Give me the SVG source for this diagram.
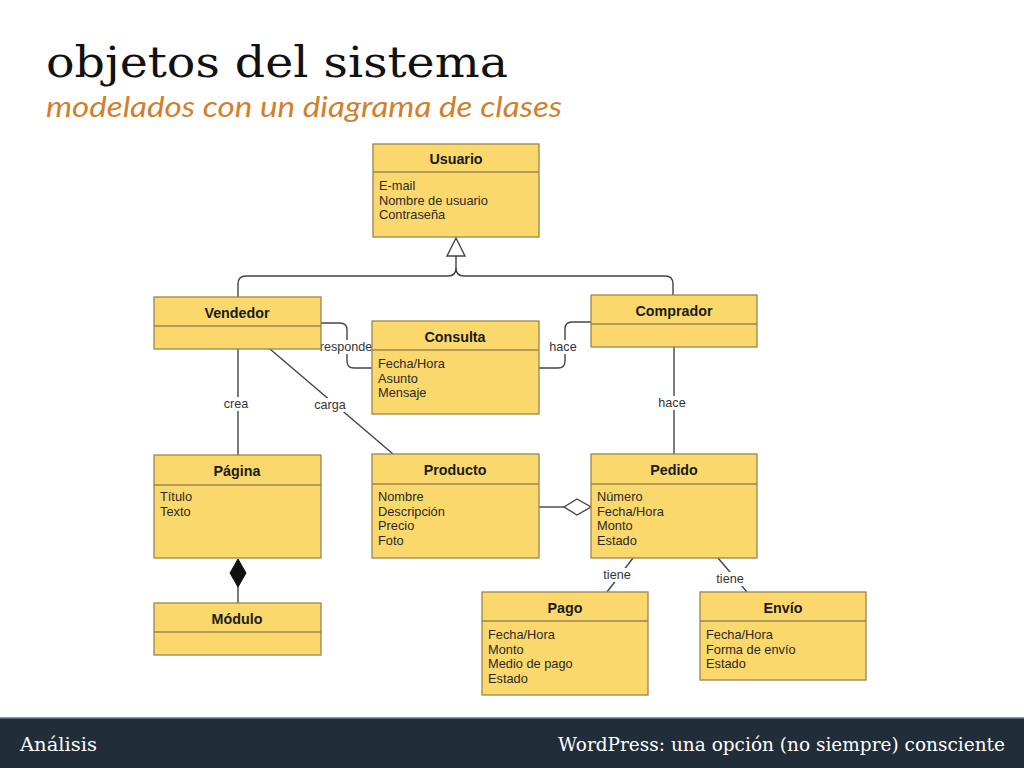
<svg xmlns="http://www.w3.org/2000/svg" width="1024" height="768" viewBox="0 0 1024 768">
<style>
.box{fill:#fad86c;stroke:#9a8550;stroke-width:1.3}
.div{stroke:#9a8550;stroke-width:1.3}
.hd{font-family:"Liberation Sans",Arial,sans-serif;font-size:14.3px;font-weight:bold;fill:#1a1a1a;text-anchor:middle}
.at{font-family:"Liberation Sans",Arial,sans-serif;font-size:12.8px;fill:#2a2a2a}
.ln{fill:none;stroke:#444;stroke-width:1.4}
.lb{font-family:"Liberation Sans",Arial,sans-serif;font-size:12.6px;fill:#333;text-anchor:middle}
.bg{fill:#fff}
</style>
<rect width="1024" height="768" fill="#fff"/>
<text x="46" y="77" font-family="'DejaVu Serif',serif" font-size="42" fill="#111" textLength="462" lengthAdjust="spacingAndGlyphs">objetos del sistema</text>
<text x="46" y="117" font-family="Lato,'Open Sans',sans-serif" font-style="italic" font-size="28" fill="#d27f2c" textLength="516" lengthAdjust="spacingAndGlyphs">modelados con un diagrama de clases</text>

<g id="connectors">
  <path class="ln" d="M238,297 V284 Q238,276 246,276 H448 Q456,276 456,268 V256"/>
  <path class="ln" d="M673,295 V284 Q673,276 665,276 H464 Q456,276 456,268"/>
  <polygon points="456,238 447,256 465,256" fill="#fff" stroke="#444" stroke-width="1.4"/>
  <path class="ln" d="M321,323 H340 Q347,323 347,330 V361 Q347,368 354,368 H372"/>
  <rect class="bg" x="322" y="340" width="49" height="14"/>
  <text class="lb" x="346" y="351">responde</text>
  <path class="ln" d="M539,368 H558 Q565,368 565,361 V329 Q565,322 572,322 H591"/>
  <rect class="bg" x="548" y="340" width="30" height="14"/>
  <text class="lb" x="563" y="351">hace</text>
  <path class="ln" d="M674,347 V454"/>
  <rect class="bg" x="656" y="396" width="32" height="14"/>
  <text class="lb" x="672" y="407">hace</text>
  <path class="ln" d="M238,349 V455"/>
  <rect class="bg" x="222" y="397" width="30" height="14"/>
  <text class="lb" x="236" y="408">crea</text>
  <path class="ln" d="M270,349 L393,454"/>
  <rect class="bg" x="312" y="398" width="36" height="14"/>
  <text class="lb" x="330" y="409">carga</text>
  <path class="ln" d="M539,507 H564"/>
  <polygon points="564,507 577,499 591,507 577,515" fill="#fff" stroke="#444" stroke-width="1.4"/>
  <path class="ln" d="M238,586 V603"/>
  <polygon points="238,559 246,573 238,587 230,573" fill="#111" stroke="#111" stroke-width="1"/>
  <path class="ln" d="M633,558 L607,592"/>
  <rect class="bg" x="602" y="568" width="30" height="14"/>
  <text class="lb" x="617" y="579">tiene</text>
  <path class="ln" d="M718,558 L747,592"/>
  <rect class="bg" x="715" y="572" width="30" height="14"/>
  <text class="lb" x="730" y="583">tiene</text>
</g>

<g id="usuario">
  <rect class="box" x="373" y="144" width="166" height="93"/>
  <line class="div" x1="373" y1="172" x2="539" y2="172"/>
  <text class="hd" x="456" y="164">Usuario</text>
  <text class="at" x="379" y="190">E-mail</text>
  <text class="at" x="379" y="205">Nombre de usuario</text>
  <text class="at" x="379" y="219">Contraseña</text>
</g>
<g id="vendedor">
  <rect class="box" x="154" y="297" width="167" height="52"/>
  <line class="div" x1="154" y1="326" x2="321" y2="326"/>
  <text class="hd" x="237" y="318">Vendedor</text>
</g>
<g id="consulta">
  <rect class="box" x="372" y="321" width="167" height="93"/>
  <line class="div" x1="372" y1="350" x2="539" y2="350"/>
  <text class="hd" x="455" y="342">Consulta</text>
  <text class="at" x="378" y="368">Fecha/Hora</text>
  <text class="at" x="378" y="383">Asunto</text>
  <text class="at" x="378" y="397">Mensaje</text>
</g>
<g id="comprador">
  <rect class="box" x="591" y="295" width="166" height="52"/>
  <line class="div" x1="591" y1="324" x2="757" y2="324"/>
  <text class="hd" x="674" y="316">Comprador</text>
</g>
<g id="pagina">
  <rect class="box" x="154" y="455" width="167" height="103"/>
  <line class="div" x1="154" y1="485" x2="321" y2="485"/>
  <text class="hd" x="237" y="476">Página</text>
  <text class="at" x="160" y="501">Título</text>
  <text class="at" x="160" y="516">Texto</text>
</g>
<g id="producto">
  <rect class="box" x="372" y="454" width="167" height="104"/>
  <line class="div" x1="372" y1="484" x2="539" y2="484"/>
  <text class="hd" x="455" y="475">Producto</text>
  <text class="at" x="378" y="501">Nombre</text>
  <text class="at" x="378" y="516">Descripción</text>
  <text class="at" x="378" y="530">Precio</text>
  <text class="at" x="378" y="545">Foto</text>
</g>
<g id="pedido">
  <rect class="box" x="591" y="454" width="166" height="104"/>
  <line class="div" x1="591" y1="484" x2="757" y2="484"/>
  <text class="hd" x="674" y="475">Pedido</text>
  <text class="at" x="597" y="501">Número</text>
  <text class="at" x="597" y="516">Fecha/Hora</text>
  <text class="at" x="597" y="530">Monto</text>
  <text class="at" x="597" y="545">Estado</text>
</g>
<g id="modulo">
  <rect class="box" x="154" y="603" width="167" height="52"/>
  <line class="div" x1="154" y1="632" x2="321" y2="632"/>
  <text class="hd" x="237" y="624">Módulo</text>
</g>
<g id="pago">
  <rect class="box" x="482" y="592" width="166" height="103"/>
  <line class="div" x1="482" y1="621" x2="648" y2="621"/>
  <text class="hd" x="565" y="613">Pago</text>
  <text class="at" x="488" y="639">Fecha/Hora</text>
  <text class="at" x="488" y="654">Monto</text>
  <text class="at" x="488" y="668">Medio de pago</text>
  <text class="at" x="488" y="683">Estado</text>
</g>
<g id="envio">
  <rect class="box" x="700" y="592" width="166" height="88"/>
  <line class="div" x1="700" y1="621" x2="866" y2="621"/>
  <text class="hd" x="783" y="613">Envío</text>
  <text class="at" x="706" y="639">Fecha/Hora</text>
  <text class="at" x="706" y="654">Forma de envío</text>
  <text class="at" x="706" y="668">Estado</text>
</g>

<rect x="0" y="718" width="1024" height="50" fill="#222d3a"/>
<rect x="0" y="717" width="1024" height="1.5" fill="#8a96a3"/>
<text x="20" y="751" font-family="'DejaVu Serif',serif" font-size="18" fill="#fff" textLength="77" lengthAdjust="spacingAndGlyphs">Análisis</text>
<text x="1005" y="751" font-family="'DejaVu Serif',serif" font-size="18" fill="#fff" text-anchor="end" textLength="447" lengthAdjust="spacingAndGlyphs">WordPress: una opción (no siempre) consciente</text>
</svg>
